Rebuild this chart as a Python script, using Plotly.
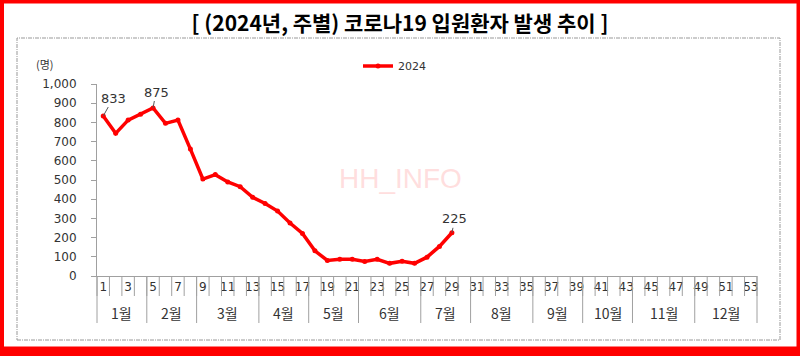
import plotly.graph_objects as go

# ---- data ----
weeks = list(range(1, 30))
hospitalized_2024 = [833, 743, 812, 842, 875, 795, 812, 661, 505, 528, 490, 465, 410, 378,
                     338, 276, 222, 131, 81, 87, 87, 76, 87, 66, 77, 66, 98, 154, 225]
series_name = "2024"
week_tick_vals = list(range(1, 54, 2))
week_tick_text = [str(w) for w in week_tick_vals]
months = ["1월", "2월", "3월", "4월", "5월", "6월", "7월", "8월", "9월", "10월", "11월", "12월"]
month_weeks = [4, 4, 5, 4, 4, 5, 4, 5, 4, 4, 5, 5]
labeled_weeks = [1, 5, 29]
title_text = "[ (2024년, 주별) 코로나19 입원환자 발생 추이 ]"
unit_text = "(명)"
watermark = "HH_INFO"

W, H = 800, 356
ML, MR, MT, MB = 97, 43, 84, 80
PW, PH = W - ML - MR, H - MT - MB
N_WEEKS = 53


def px2x(px):
    return (px - ML) / PW


def py2y(py):
    return (H - MB - py) / PH


NUM_FONT = "DejaVu Sans, Noto Sans CJK KR, sans-serif"
KR_FONT = "Noto Sans CJK KR, sans-serif"
TXT = "#333333"
GRID = "#a0a0a0"
RED = "#ff0000"

fig = go.Figure()
fig.add_trace(go.Scatter(
    x=weeks, y=hospitalized_2024, name=series_name, mode="lines+markers",
    line=dict(color=RED, width=3.5), marker=dict(color=RED, size=5),
))

shapes = []
annotations = []

# week dividers
for b in range(N_WEEKS + 1):
    xd = b / N_WEEKS
    shapes.append(dict(type="line", xref="x domain", yref="paper", x0=xd, x1=xd,
                       y0=0, y1=py2y(296), line=dict(color=GRID, width=1)))
# month dividers and labels
start = 0
bounds = [0]
for m, n in zip(months, month_weeks):
    annotations.append(dict(text=m, xref="x", yref="paper", x=start + n / 2 + 0.5,
                            y=py2y(313), xanchor="center", yanchor="middle", showarrow=False,
                            font=dict(family=KR_FONT, size=14, color=TXT)))
    start += n
    bounds.append(start)
for b in bounds:
    xd = b / N_WEEKS
    shapes.append(dict(type="line", xref="x domain", yref="paper", x0=xd, x1=xd,
                       y0=0, y1=py2y(323), line=dict(color=GRID, width=1)))

# dashed inner frame
shapes.append(dict(type="rect", xref="paper", yref="paper", x0=px2x(17), x1=px2x(780),
                   y0=py2y(340), y1=py2y(38),
                   line=dict(color="#999999", width=1, dash="4px,1px,1px,1px"),
                   layer="below"))
# red outer border
for (a, b_, c, d) in [(0, W, 0, 3.5), (0, W, 346.5, H), (0, 4, 0, H), (796.5, W, 0, H)]:
    shapes.append(dict(type="rect", xref="paper", yref="paper", x0=px2x(a), x1=px2x(b_),
                       y0=py2y(d), y1=py2y(c), fillcolor=RED, line=dict(width=0)))

# data labels
offsets = {1: (10, -18), 5: (3, -16), 29: (3, -14)}
for w in labeled_weeks:
    v = hospitalized_2024[w - 1]
    ax, ay = offsets[w]
    annotations.append(dict(text=str(v), x=w, y=v, xref="x", yref="y", ax=ax, ay=ay,
                            showarrow=True, arrowhead=0, arrowwidth=1, arrowcolor="#555555",
                            font=dict(family=NUM_FONT, size=13, color=TXT)))

# unit
annotations.append(dict(text=unit_text, xref="paper", yref="paper", x=px2x(45), y=py2y(64),
                        xanchor="center", yanchor="middle", showarrow=False,
                        font=dict(family=KR_FONT, size=11, color=TXT)))
# watermark
annotations.append(dict(text=watermark, xref="paper", yref="paper", x=px2x(400), y=py2y(178),
                        xanchor="center", yanchor="middle", showarrow=False,
                        font=dict(family="Liberation Sans, Arial, sans-serif",
                                  size=28, color="rgba(255,200,200,0.6)")))

fig.update_layout(
    width=W, height=H, margin=dict(l=ML, r=MR, t=MT, b=MB),
    paper_bgcolor="white", plot_bgcolor="white",
    title=dict(text=title_text, x=0.5, xanchor="center", y=1 - 24 / H, yanchor="middle",
               font=dict(family=KR_FONT, size=21, color="black", weight="bold")),
    showlegend=True,
    legend=dict(orientation="h", x=px2x(358), y=py2y(66), xanchor="left", yanchor="middle",
                font=dict(family=NUM_FONT, size=11, color=TXT), bgcolor="rgba(0,0,0,0)",
                itemwidth=30),
    xaxis=dict(range=[0.5, N_WEEKS + 0.5], tickvals=week_tick_vals, ticktext=week_tick_text,
               showgrid=False, zeroline=False, showline=True, linecolor=GRID, linewidth=1,
               ticks="", tickfont=dict(family=NUM_FONT, size=12, color=TXT), tickangle=0,
               fixedrange=True),
    yaxis=dict(range=[0, 1000], dtick=100, tickformat=",", showgrid=False, zeroline=False,
               showline=True, linecolor=GRID, linewidth=1, ticks="outside", ticklen=5,
               tickcolor=GRID, tickfont=dict(family=NUM_FONT, size=12, color=TXT),
               ticklabelstandoff=12, fixedrange=True),
    shapes=shapes, annotations=annotations,
)

fig.write_html("out.html", config={"displayModeBar": False},
               post_script="document.body.style.margin='0';document.body.style.overflow='hidden';")
